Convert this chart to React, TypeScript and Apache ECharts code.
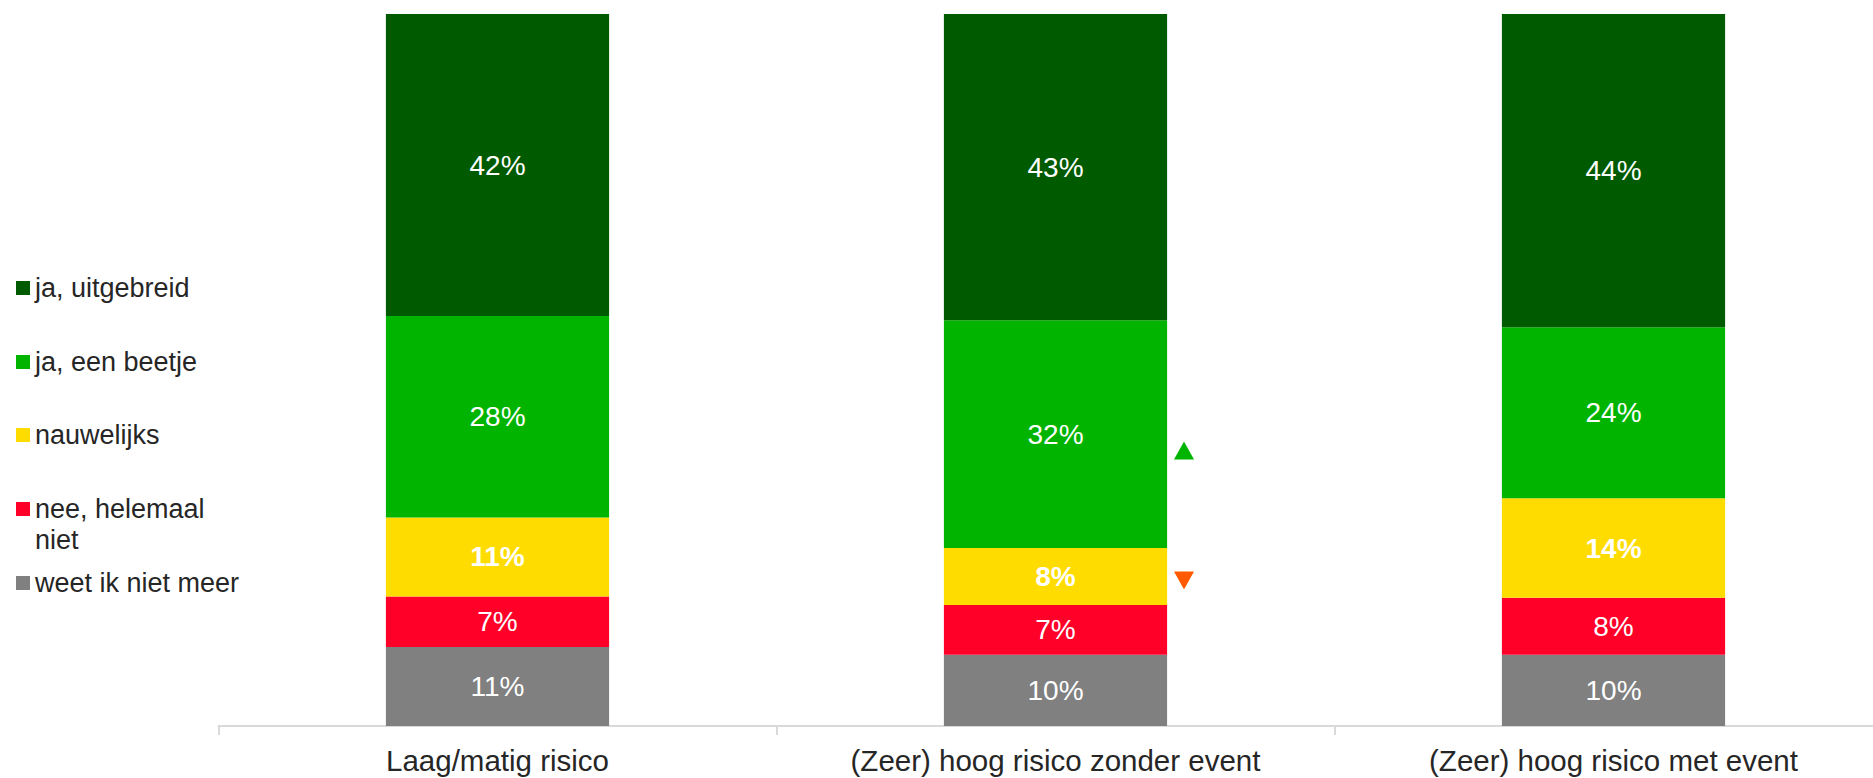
import { useEffect, useRef } from 'react';
import * as echarts from 'echarts';

// Categories along the x axis
const categories = [
  'Laag/matig risico',
  '(Zeer) hoog risico zonder event',
  '(Zeer) hoog risico met event',
];

// Answer shares in percent, per category (stacked bottom to top)
const weetNietMeer = [11, 10, 10];
const neeHelemaalNiet = [7, 7, 8];
const nauwelijks = [11, 8, 14];
const jaEenBeetje = [28, 32, 24];
const jaUitgebreid = [42, 43, 44];

// Significant differences: 1 = higher, -1 = lower, 0 = none
const jaEenBeetjeSignificant = [0, 1, 0];
const nauwelijksSignificant = [0, -1, 0];

const FONT = "'Liberation Sans', Arial, sans-serif";
const TEXT_COLOR = '#262626';
const CHART_WIDTH = 1893;

type Stack = { name: string; legendText: string; values: number[]; color: string; bold: boolean };

const stackOrder: Stack[] = [
  { name: 'weet ik niet meer', legendText: 'weet ik niet meer', values: weetNietMeer, color: '#808080', bold: false },
  { name: 'nee, helemaal niet', legendText: 'nee, helemaal\nniet', values: neeHelemaalNiet, color: '#FF0029', bold: false },
  { name: 'nauwelijks', legendText: 'nauwelijks', values: nauwelijks, color: '#FFDC00', bold: true },
  { name: 'ja, een beetje', legendText: 'ja, een beetje', values: jaEenBeetje, color: '#00B400', bold: false },
  { name: 'ja, uitgebreid', legendText: 'ja, uitgebreid', values: jaUitgebreid, color: '#005A00', bold: false },
];

// 100% stacked: each column is scaled to its own total
const totals = categories.map((_, i) => stackOrder.reduce((s, st) => s + st.values[i], 0));
const share = (v: number, i: number) => (v / totals[i]) * 100;

// Midpoint (in share) of a stacked segment
const segmentMid = (stackIndex: number, i: number) => {
  let base = 0;
  for (let k = 0; k < stackIndex; k++) base += share(stackOrder[k].values[i], i);
  return base + share(stackOrder[stackIndex].values[i], i) / 2;
};

const markColor = (s: number) => (s > 0 ? '#00B400' : '#FF5A00');

const buildMarks = (flags: number[], stackIndex: number, dy: number) => {
  const marks: any[] = [];
  flags.forEach((s, i) => {
    if (s !== 0) {
      marks.push({
        value: [i, segmentMid(stackIndex, i)],
        symbolRotate: s > 0 ? 0 : 180,
        symbolOffset: [128.5, dy],
        itemStyle: { color: markColor(s), opacity: 1 },
      });
    }
  });
  return marks;
};

const buildOption = (): echarts.EChartsOption => {
  const barSeries = stackOrder.map((st) => ({
    name: st.name,
    type: 'bar' as const,
    stack: 'total',
    barWidth: '40%',
    itemStyle: { color: st.color },
    label: {
      show: true,
      position: 'inside' as const,
      color: '#ffffff',
      fontSize: 28,
      fontFamily: FONT,
      fontWeight: st.bold ? ('bold' as const) : ('normal' as const),
      formatter: (p: any) => `${st.values[p.dataIndex]}%`,
    },
    emphasis: { disabled: true },
    data: st.values.map((v, i) => share(v, i)),
  }));

  const markSeries = [
    {
      name: 'significant ja, een beetje',
      type: 'scatter' as const,
      symbol: 'triangle',
      symbolSize: [20, 18],
      silent: true,
      z: 5,
      itemStyle: { opacity: 1 },
      data: buildMarks(jaEenBeetjeSignificant, 3, 16.5),
    },
    {
      name: 'significant nauwelijks',
      type: 'scatter' as const,
      symbol: 'triangle',
      symbolSize: [20, 18],
      silent: true,
      z: 5,
      itemStyle: { opacity: 1 },
      data: buildMarks(nauwelijksSignificant, 2, 4),
    },
  ];

  // One legend per entry, listed top to bottom. A two-line entry gets a taller
  // icon box whose square sits at the top, next to the first line.
  const legendOrder = [...stackOrder].reverse();
  const legendTops = [272.5, 346.5, 419.5, 493.5, 567.5];
  const legends = legendOrder.map((st, k) => {
    const twoLines = st.legendText.includes('\n');
    return {
      data: [
        {
          name: st.name,
          icon: twoLines ? 'path://M0,0L14,0L14,14L0,14Z M0,45' : 'rect',
        },
      ],
      orient: 'vertical' as const,
      left: 16,
      top: legendTops[k],
      padding: 0,
      itemWidth: 14,
      itemHeight: twoLines ? 45 : 14,
      itemGap: 0,
      selectedMode: false,
      formatter: () => st.legendText,
      textStyle: {
        fontSize: 27,
        lineHeight: 31,
        color: TEXT_COLOR,
        fontFamily: FONT,
      },
    };
  });

  return {
    animation: false,
    backgroundColor: '#ffffff',
    textStyle: { fontFamily: FONT },
    legend: legends,
    grid: { left: 218.5, right: CHART_WIDTH - 1892.5, top: 14, bottom: 52, containLabel: false },
    xAxis: {
      type: 'category',
      data: categories,
      axisLine: { show: true, lineStyle: { color: '#D9D9D9', width: 2 } },
      axisTick: { show: true, length: 9, lineStyle: { color: '#D9D9D9', width: 2 } },
      axisLabel: {
        color: TEXT_COLOR,
        fontSize: 29.5,
        fontFamily: FONT,
        margin: 19,
        interval: 0,
      },
    },
    yAxis: {
      type: 'value',
      min: 0,
      max: 100,
      show: false,
      splitLine: { show: false },
    },
    series: [...barSeries, ...markSeries],
  };
};

export default function App() {
  const ref = useRef<HTMLDivElement>(null);
  useEffect(() => {
    if (!ref.current) return;
    document.body.style.overflow = 'hidden';
    const chart = echarts.init(ref.current, null, { renderer: 'svg' });
    chart.setOption(buildOption());
    return () => chart.dispose();
  }, []);
  return (
    <div
      ref={ref}
      style={{ position: 'fixed', left: 0, top: 0, width: CHART_WIDTH, height: 778 }}
    />
  );
}
